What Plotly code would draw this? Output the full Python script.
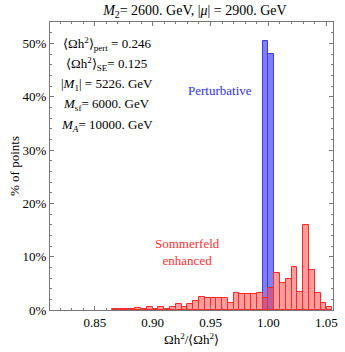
import plotly.graph_objects as go

# histogram bins (left edges), width 0.005
red_bins = [0.865, 0.870, 0.875, 0.880, 0.885, 0.890, 0.895, 0.900, 0.905, 0.910,
            0.915, 0.920, 0.925, 0.930, 0.935, 0.940, 0.945, 0.950, 0.955, 0.960,
            0.965, 0.970, 0.975, 0.980, 0.985, 0.990, 0.995, 1.000, 1.005, 1.010,
            1.015, 1.020, 1.025, 1.030, 1.035, 1.040, 1.045, 1.050]
red_pct = [0.2, 0.2, 0.2, 0.15, 0.45, 0.15, 0.6, 0.25, 0.5, 0.25,
           0.6, 1.05, 0.6, 1.05, 1.6, 2.5, 2.2, 2.3, 2.3, 2.2,
           1.35, 3.1, 3.05, 3.05, 3.05, 3.2, 2.3, 4.2, 6.9, 5.0,
           5.9, 8.1, 3.4, 16.0, 7.5, 3.1, 1.3, 0.6]

blue_bins = [0.995, 1.000]
blue_pct = [50.5, 48.0]

bin_width = 0.005

x_ticks = [0.85, 0.90, 0.95, 1.00, 1.05]
y_ticks = [0, 10, 20, 30, 40, 50]

info_lines = [
    "⟨Ωh<sup>2</sup>⟩<sub>pert</sub> = 0.246",
    "⟨Ωh<sup>2</sup>⟩<sub>SE</sub>= 0.125",
    "|<i>M</i><sub>1</sub>| = 5226. GeV",
    "<i>M</i><sub>sf</sub>= 6000. GeV",
    "<i>M<sub>A</sub></i>= 10000. GeV",
]

serif = "Liberation Serif"

fig = go.Figure()
fig.add_trace(go.Bar(
    x=[b + bin_width / 2 for b in blue_bins], y=blue_pct, width=bin_width,
    marker=dict(color="rgba(50,50,255,0.62)", line=dict(color="rgb(60,60,235)", width=1)),
    name="Perturbative", showlegend=False))
fig.add_trace(go.Bar(
    x=[b + bin_width / 2 for b in red_bins], y=red_pct, width=bin_width,
    marker=dict(color="rgba(255,60,60,0.5)", line=dict(color="rgb(255,40,40)", width=1)),
    name="Sommerfeld enhanced", showlegend=False))

for i, line in enumerate(info_lines):
    fig.add_annotation(x=0.2, y=0.925 - i * 0.071, xref="paper", yref="paper",
                       text=line, showarrow=False, xanchor="center", yanchor="middle",
                       font=dict(family=serif, size=13, color="black"))

fig.add_annotation(x=0.6, y=0.795, xref="paper", yref="paper", text="Perturbative",
                   showarrow=False, font=dict(family=serif, size=13, color="rgb(50,50,220)"))
fig.add_annotation(x=0.485, y=0.14, xref="paper", yref="paper",
                   text="Sommerfeld<br>enhanced", showarrow=False,
                   font=dict(family=serif, size=13, color="rgb(255,50,50)"))

fig.update_layout(
    width=345, height=352,
    margin=dict(l=50, r=7, t=22, b=41),
    plot_bgcolor="white", paper_bgcolor="white",
    barmode="overlay", bargap=0,
    font=dict(family=serif, size=13, color="black"),
    title=dict(text="<i>M</i><sub>2</sub>= 2600. GeV, |<i>μ</i>| = 2900. GeV",
               x=0.565, xanchor="center", y=0.972, yanchor="middle",
               font=dict(family=serif, size=14)),
    xaxis=dict(range=[0.8113, 1.0558], tickvals=x_ticks,
               ticktext=[f"{v:.2f}" for v in x_ticks], tickfont=dict(family=serif, size=13),
               ticks="inside", ticklen=4, tickcolor="#777", showgrid=False, zeroline=False,
               showline=True, linecolor="#777", linewidth=1, mirror="ticks",
               minor=dict(dtick=0.01, ticks="inside", ticklen=2, tickcolor="#777", showgrid=False),
               title=dict(text="Ωh<sup>2</sup>/⟨Ωh<sup>2</sup>⟩", font=dict(family=serif, size=13),
                          standoff=6)),
    yaxis=dict(range=[0, 54], tickvals=y_ticks, ticktext=[f"{v}%" for v in y_ticks],
               tickfont=dict(family=serif, size=13),
               ticks="inside", ticklen=4, tickcolor="#777", showgrid=False, zeroline=False,
               showline=True, linecolor="#777", linewidth=1, mirror="ticks",
               minor=dict(dtick=2, ticks="inside", ticklen=2, tickcolor="#777", showgrid=False),
               title=dict(text="% of points", font=dict(family=serif, size=13), standoff=0)),
)

fig.write_html("out.html", config={"displayModeBar": False},
               post_script="document.body.style.margin='0px';")
